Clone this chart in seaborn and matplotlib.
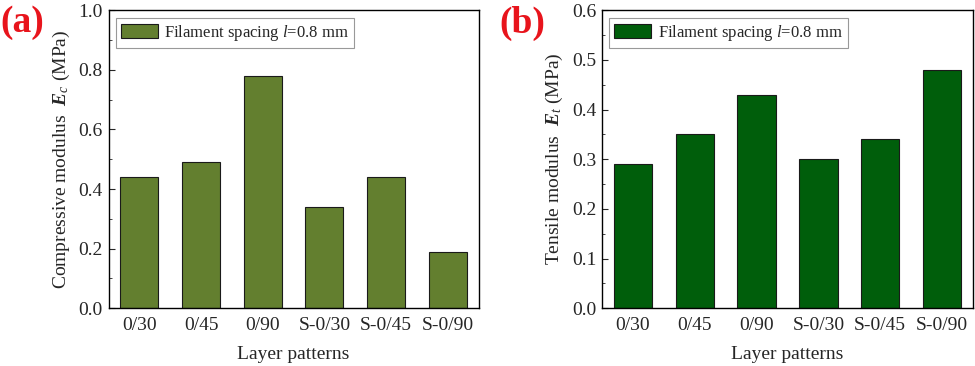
import matplotlib
matplotlib.use('Agg')
import matplotlib.pyplot as plt
import seaborn as sns
import pandas as pd
from matplotlib.ticker import MultipleLocator

# data
patterns = ['0/30', '0/45', '0/90', 'S-0/30', 'S-0/45', 'S-0/90']
compressive = [0.44, 0.49, 0.78, 0.34, 0.44, 0.19]
tensile = [0.29, 0.35, 0.43, 0.30, 0.34, 0.48]

df = pd.DataFrame({'pattern': patterns, 'Ec': compressive, 'Et': tensile})

sns.set_style('ticks')
plt.rcParams['font.family'] = ['Liberation Serif', 'DejaVu Serif']
plt.rcParams['mathtext.fontset'] = 'custom'
plt.rcParams['mathtext.rm'] = 'Liberation Serif'
plt.rcParams['mathtext.it'] = 'Liberation Serif:italic'
plt.rcParams['mathtext.bf'] = 'Liberation Serif:bold'
plt.rcParams['mathtext.bfit'] = 'Liberation Serif:bold:italic'

fig = plt.figure(figsize=(9.75, 3.66), dpi=100)
ax1 = fig.add_axes([0.1113, 0.158, 0.3795, 0.814])
ax2 = fig.add_axes([0.6174, 0.158, 0.3805, 0.814])

panels = [
    (ax1, 'Ec', '#637f2f', r'Compressive modulus  $\mathbfit{E}_{\mathit{c}}$ (MPa)', 1.0, 0.2),
    (ax2, 'Et', '#005e0b', r'Tensile modulus  $\mathbfit{E}_{\mathit{t}}$ (MPa)', 0.6, 0.1),
]

for ax, col, color, ylab, ymax, step in panels:
    sns.barplot(data=df, x='pattern', y=col, color=color, edgecolor='#1a1a1a',
                linewidth=0.8, width=0.62, saturation=1, label='Filament spacing $l$=0.8 mm', ax=ax)
    ax.set_xlim(-0.5, 5.5)
    ax.set_ylim(0, ymax)
    ax.yaxis.set_major_locator(MultipleLocator(step))
    ax.yaxis.set_minor_locator(MultipleLocator(step / 2))
    ax.yaxis.set_major_formatter(matplotlib.ticker.FormatStrFormatter('%.1f'))
    ax.tick_params(axis='y', which='both', direction='in', labelsize=14, pad=4)
    ax.tick_params(axis='y', which='major', length=4)
    ax.tick_params(axis='y', which='minor', length=2)
    ax.tick_params(axis='x', length=0, labelsize=14, pad=6)
    for s in ax.spines.values():
        s.set_linewidth(1.0)
        s.set_color('black')
    ax.set_xlabel('Layer patterns', fontsize=14, labelpad=9)
    ax.set_ylabel(ylab, fontsize=14, labelpad=5)
    leg = ax.legend(loc='upper left', fontsize=12, fancybox=False, framealpha=1,
                    edgecolor='#999999', handlelength=2.2, handleheight=1.0,
                    borderpad=0.3, handletextpad=0.4, borderaxespad=0.45)
    leg.get_frame().set_linewidth(0.8)

fig.text(0.0, 0.985, '(a)', color='#e8141c', fontsize=27, fontweight='bold', va='top', ha='left')
fig.text(0.512, 0.985, '(b)', color='#e8141c', fontsize=27, fontweight='bold', va='top', ha='left')

fig.savefig('out.png', dpi=100)
